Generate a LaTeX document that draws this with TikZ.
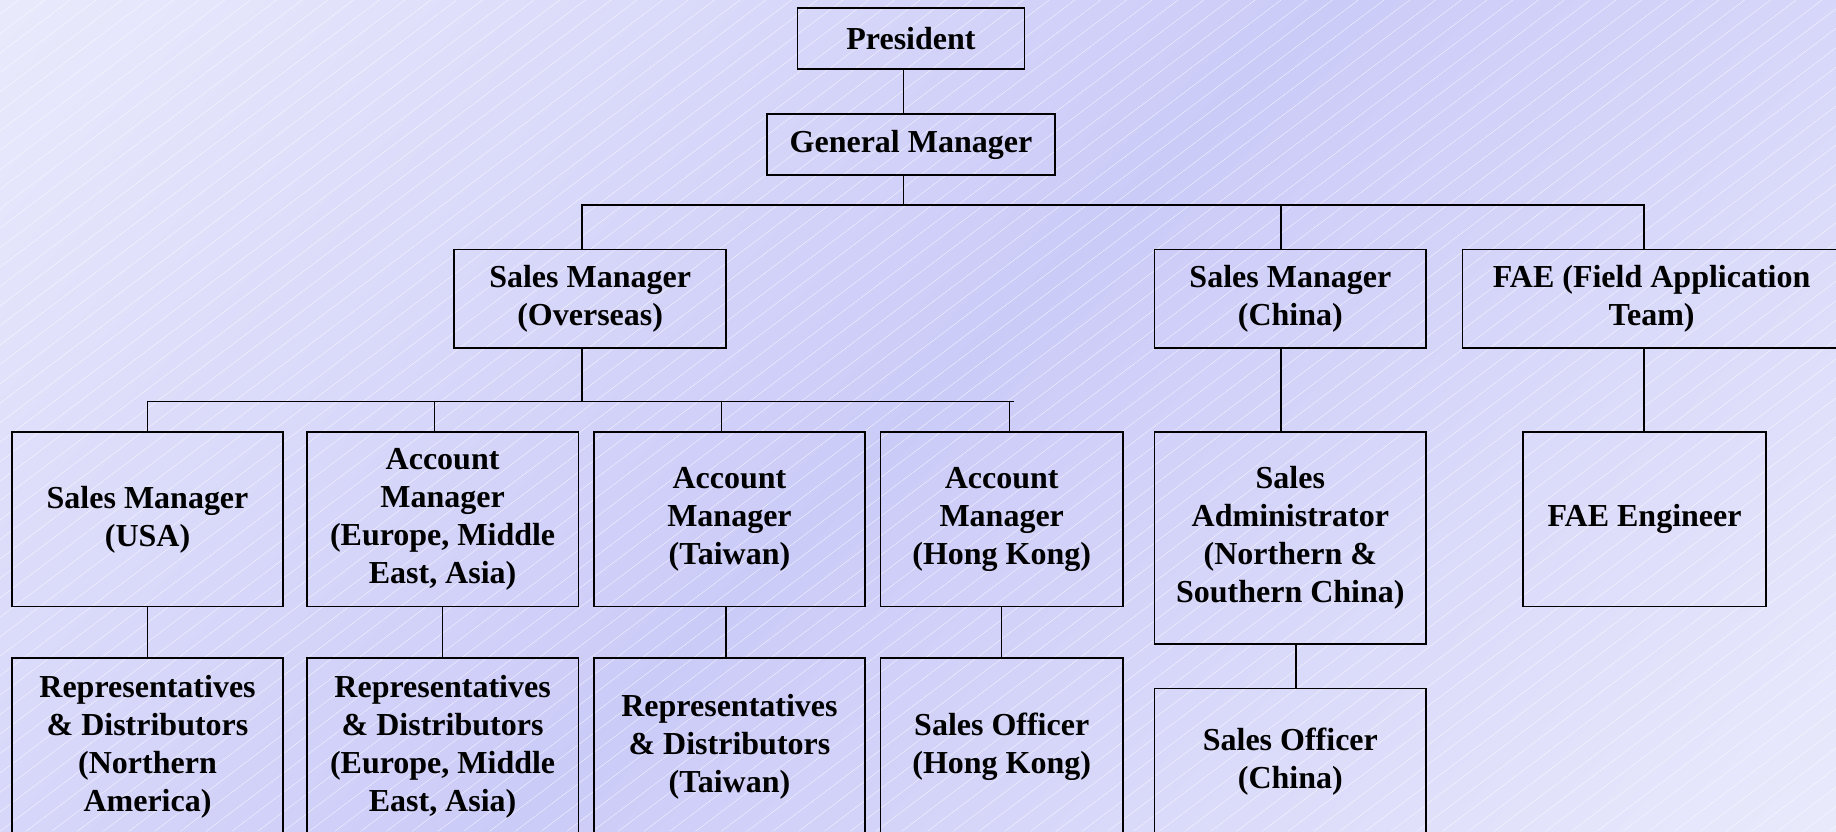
\documentclass[tikz,border=0pt]{standalone}
\usepackage{fontspec}
\setmainfont{Liberation Serif}
\usetikzlibrary{calc}
\definecolor{bglight}{HTML}{F6F6FE}
\definecolor{bgdark}{HTML}{CBCBF8}
\pgfdeclareverticalshading{bgshade}{100bp}{color(0bp)=(bglight); color(50bp)=(bgdark); color(100bp)=(bglight)}
\tikzset{
  obox/.style={draw=black, line width=0.9pt, inner sep=0pt, outer sep=0pt,
    align=center, font=\bfseries\fontsize{16}{19}\selectfont},
  link/.style={draw=black, line width=0.75pt},
  hatch/.style={draw=white, line width=0.12pt}
}
\newcommand\orgbox[6]{%
  \node[obox, minimum width={(#4-#3)*0.5855pt}, minimum height={(#6-#5)*0.5855pt}]
    (#1) at ({(#3+#4)/2},{(#5+#6)/2}) {#2};}
\begin{document}
\begin{tikzpicture}[x=0.5855pt, y=-0.5855pt]
\useasboundingbox (0,0) rectangle (1568,710);
\clip (0,0) rectangle (1568,710);
\shade[shading=bgshade, shading angle=45] (0,0) rectangle (1568,710);
\foreach \i in {-45,...,72} { \draw[hatch] (\i*22,710) -- ++(940,-710); }

\orgbox{pres}{President}{681}{875}{7}{59}
\orgbox{gm}{General Manager}{655}{901}{97.4}{149.5}
\orgbox{smo}{Sales Manager\\(Overseas)}{388}{620}{213}{297}
\orgbox{smc}{Sales Manager\\(China)}{986}{1218}{213}{297}
\orgbox{fae}{FAE (Field Application\\Team)}{1249}{1572}{213}{297}
\orgbox{usa}{Sales Manager\\(USA)}{10}{242}{369}{518}
\orgbox{emea}{Account\\Manager\\(Europe, Middle\\East, Asia)}{262}{494}{369}{518}
\orgbox{tw}{Account\\Manager\\(Taiwan)}{507}{739}{369}{518}
\orgbox{hk}{Account\\Manager\\(Hong Kong)}{752}{959}{369}{518}
\orgbox{sadm}{Sales\\Administrator\\(Northern \&\\Southern China)}{986}{1218}{369}{550}
\orgbox{faee}{FAE Engineer}{1301}{1508}{369}{518}
\orgbox{rusa}{Representatives\\\& Distributors\\(Northern\\America)}{10}{242}{562}{713}
\orgbox{remea}{Representatives\\\& Distributors\\(Europe, Middle\\East, Asia)}{262}{494}{562}{713}
\orgbox{rtw}{Representatives\\\& Distributors\\(Taiwan)}{507}{739}{562}{713}
\orgbox{shk}{Sales Officer\\(Hong Kong)}{752}{959}{562}{713}
\orgbox{sch}{Sales Officer\\(China)}{986}{1218}{588}{713}

% President -> General Manager
\draw[link] ($(pres.south)+(-6.5,0)$) -- ($(gm.north)+(-6.5,0)$);
% General Manager -> level 1 bus
\coordinate (bus1) at ($(gm.south)+(-6.5,25.5)$);
\draw[link] ($(gm.south)+(-6.5,0)$) -- (bus1);
\draw[link] (bus1) -| ($(smo.north)+(-7,0)$);
\draw[link] (bus1) -| ($(smc.north)+(-8,0)$);
\draw[link] (bus1) -| ($(fae.north)+(-6.5,0)$);
% Sales Manager (Overseas) -> level 2 bus
\coordinate (bus2) at ($(smo.south)+(-7,46)$);
\coordinate (bus2end) at (866,343);
\draw[link] ($(smo.south)+(-7,0)$) -- (bus2);
\draw[link] (bus2) -| (usa.north);
\draw[link] (bus2) -| ($(emea.north)+(-7,0)$);
\draw[link] (bus2) -| ($(tw.north)+(-7,0)$);
\draw[link] (bus2) -- (bus2end);
\draw[link] (bus2 -| hk.north) ++(6.5,0) -- ($(hk.north)+(6.5,0)$);
% level 2 -> level 3
\draw[link] (usa.south) -- (rusa.north);
\draw[link] (emea.south) -- (remea.north);
\draw[link] ($(tw.south)+(-3,0)$) -- ($(rtw.north)+(-3,0)$);
\draw[link] (hk.south) -- (shk.north);
% China branch
\draw[link] ($(smc.south)+(-8,0)$) -- ($(sadm.north)+(-8,0)$);
\draw[link] ($(sadm.south)+(5,0)$) -- ($(sch.north)+(5,0)$);
% FAE branch
\draw[link] ($(fae.south)+(-6.5,0)$) -- ($(faee.north)+(-0.5,0)$);
\end{tikzpicture}
\end{document}
